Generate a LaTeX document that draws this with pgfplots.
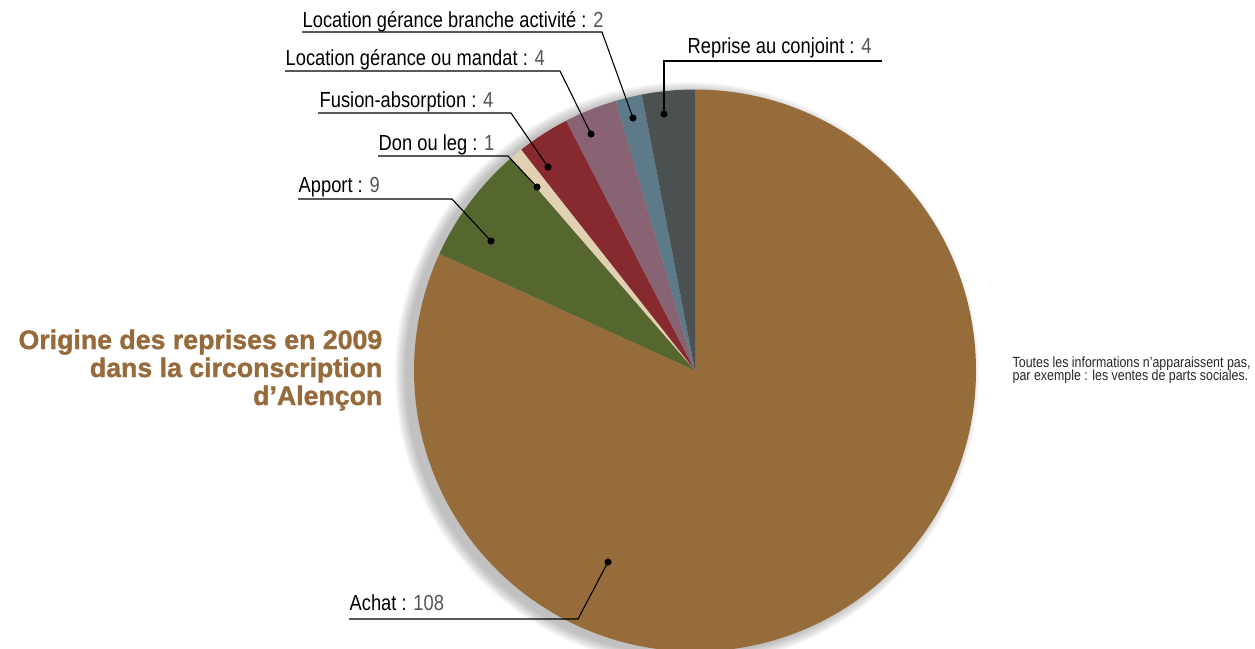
\documentclass[border=0pt]{standalone}
\usepackage{pgfplots}
\pgfplotsset{compat=1.18}
\usepackage{pgfplotstable}
\usepackage{fontspec}
\setmainfont{Liberation Sans}[FakeStretch=0.84]
\newfontfamily\titlefont{Liberation Sans Bold}[FakeBold=1.3]

\definecolor{cAchat}{HTML}{976C3B}
\definecolor{cApport}{HTML}{55672E}
\definecolor{cDon}{HTML}{E2D0B3}
\definecolor{cFusion}{HTML}{872A30}
\definecolor{cMandat}{HTML}{886373}
\definecolor{cBranche}{HTML}{5D7A88}
\definecolor{cConjoint}{HTML}{4B5051}
\definecolor{valgray}{HTML}{555555}
\definecolor{titlebrown}{HTML}{966A3A}

% parts, clockwise from the top
\pgfplotstableread[col sep=comma]{
name,value,color
Achat,108,cAchat
Apport,9,cApport
Don,1,cDon
Fusion,4,cFusion
Mandat,4,cMandat
Branche,2,cBranche
Conjoint,4,cConjoint
}\parts

\newcommand{\lab}[1]{\fontsize{6.2}{7}\selectfont #1}
\newcommand{\val}[1]{{\color{valgray}#1}}
\newcommand{\ttl}{\titlefont\fontsize{7.6}{8}\selectfont}

\begin{document}
\begin{tikzpicture}
\pgfmathsetmacro\total{0}
\pgfplotstablegetrowsof{\parts}
\pgfmathtruncatemacro\nlast{\pgfplotsretval-1}
\pgfplotsforeachungrouped \i in {0,...,\nlast}{%
  \pgfplotstablegetelem{\i}{value}\of\parts
  \pgfmathsetmacro\total{\total+\pgfplotsretval}%
}
\begin{axis}[
    at={(0,0)}, anchor=south west,
    width=125.5mm, height=64.8mm, scale only axis,
    xmin=0, xmax=1255, ymin=0, ymax=648, y dir=reverse,
    hide axis, clip=true,
]
% soft shadow, lower left
\pgfplotsinvokeforeach{1,...,14}{
  \fill[black, opacity=0.02] (axis cs:687,374) circle[radius=28.1mm+#1*0.08mm];
}
% sectors
\def\cum{0}
\pgfplotsforeachungrouped \i in {0,...,\nlast}{%
  \pgfplotstablegetelem{\i}{value}\of\parts \let\pv\pgfplotsretval
  \pgfplotstablegetelem{\i}{color}\of\parts \let\pc\pgfplotsretval
  \pgfmathsetmacro\a{90-360*(\cum/\total)}%
  \pgfmathsetmacro\cum{\cum+\pv}%
  \pgfmathsetmacro\b{90-360*(\cum/\total)}%
  \edef\temp{\noexpand\fill[\pc] (axis cs:695,370.5) -- ++(canvas polar cs:angle=\a,radius=28.1mm)
    arc[start angle=\a, end angle=\b, radius=28.1mm] -- cycle;}%
  \temp
}

% leader lines
\addplot[black, line width=0.11mm, no marks] coordinates {(302,32) (602,32) (633,118)};
\addplot[black, line width=0.11mm, no marks] coordinates {(285,71) (560,71) (591,134)};
\addplot[black, line width=0.11mm, no marks] coordinates {(318,113) (511,113) (548,167)};
\addplot[black, line width=0.11mm, no marks] coordinates {(378,156) (508,156) (537,187)};
\addplot[black, line width=0.11mm, no marks] coordinates {(298,199) (452,199) (491,241)};
\addplot[black, line width=0.11mm, no marks] coordinates {(349,619) (578,619) (608,562)};
\addplot[black, line width=0.11mm, no marks] coordinates {(882,61) (664,61) (664,114)};
\addplot[black, only marks, mark=*, mark size=0.28mm] coordinates {
  (633,118) (591,134) (548,167) (537,187) (491,241) (608,562) (664,114)};

% labels
\node[anchor=base west, inner sep=0] at (axis cs:302,27) {\lab{Location gérance branche activité : \val{2}}};
\node[anchor=base west, inner sep=0] at (axis cs:285,65) {\lab{Location gérance ou mandat : \val{4}}};
\node[anchor=base west, inner sep=0] at (axis cs:319,107) {\lab{Fusion-absorption : \val{4}}};
\node[anchor=base west, inner sep=0] at (axis cs:378,150) {\lab{Don ou leg : \val{1}}};
\node[anchor=base west, inner sep=0] at (axis cs:298,192) {\lab{Apport : \val{9}}};
\node[anchor=base west, inner sep=0] at (axis cs:349,610) {\lab{Achat : \val{108}}};
\node[anchor=base west, inner sep=0] at (axis cs:687,53) {\lab{Reprise au conjoint : \val{4}}};

% title
\node[anchor=base east, inner sep=0, text=titlebrown] at (axis cs:383,349) {\ttl Origine des reprises en 2009};
\node[anchor=base east, inner sep=0, text=titlebrown] at (axis cs:383,377) {\ttl dans la circonscription};
\node[anchor=base east, inner sep=0, text=titlebrown] at (axis cs:383,405) {\ttl d’Alençon};

% note
\node[anchor=base west, inner sep=0, text=black!85] at (axis cs:1012,367) {\fontsize{4.2}{5}\selectfont Toutes les informations n’apparaissent pas,};
\node[anchor=base west, inner sep=0, text=black!85] at (axis cs:1012,380) {\fontsize{4.2}{5}\selectfont par exemple : les ventes de parts sociales.};
\end{axis}
\pgfresetboundingbox
\useasboundingbox (0,0) rectangle (125.5mm,64.8mm);
\end{tikzpicture}
\end{document}
